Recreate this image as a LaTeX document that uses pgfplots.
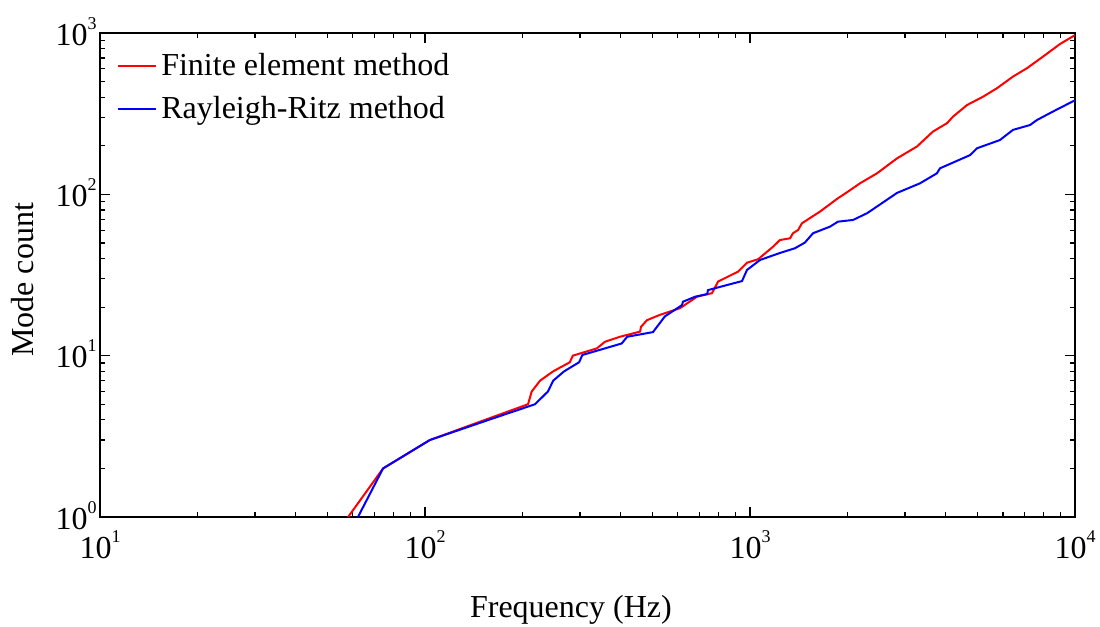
\documentclass[border=0pt]{standalone}
\usepackage{fontspec}
\setmainfont{Liberation Serif}
\usepackage{pgfplots}
\pgfplotsset{compat=1.18}
\newcommand\tp[1]{10\raisebox{8bp}{\fontsize{9bp}{10bp}\selectfont #1}}
\begin{document}
\begin{tikzpicture}
\useasboundingbox (-50bp,-55bp) rectangle (500bp,258.5bp);
\begin{axis}[
  at={(0,0)}, anchor=south west,
  scale only axis, width=487.5bp, height=242bp,
  xmode=log, ymode=log,
  xmin=10, xmax=10000, ymin=1, ymax=1000,
  xtick={10,100,1000,10000},
  xticklabels={\tp{1},\tp{2},\tp{3},\tp{4}},
  ytick={1,10,100,1000},
  yticklabels={\tp{0},\tp{1},\tp{2},\tp{3}},
  minor xtick={20,30,40,50,60,70,80,90,200,300,400,500,600,700,800,900,2000,3000,4000,5000,6000,7000,8000,9000},
  minor ytick={2,3,4,5,6,7,8,9,20,30,40,50,60,70,80,90,200,300,400,500,600,700,800,900},
  tick align=inside,
  xtick pos=both, ytick pos=both,
  major tick length=5bp, minor tick length=2.5bp,
  every tick/.style={black, line width=0.6bp},
  axis line style={line width=0.8bp},
  tick label style={font=\fontsize{16bp}{19bp}\selectfont},
  xticklabel style={anchor=north, inner sep=0pt, yshift=-6.5bp},
  yticklabel style={anchor=base east, inner sep=0pt, xshift=-1.5bp, yshift=-6bp},
  label style={font=\fontsize{16bp}{19bp}\selectfont},
  xlabel={Frequency (Hz)},
  ylabel={Mode count},
  xlabel style={at={(axis description cs:0.483,-0.208)}, anchor=base, inner sep=0pt},
  ylabel style={at={(axis description cs:-0.0687,0.49)}, anchor=base, inner sep=0pt, rotate=0},
  legend style={draw=none, fill=none, at={(axis description cs:0,1)}, anchor=north west,
    xshift=8.5bp, yshift=-10.1bp, inner sep=0pt, outer sep=0pt, row sep=9bp, column sep=2.15bp,
    font=\fontsize{16bp}{19bp}\selectfont, nodes={inner sep=0pt}},
  legend cell align=left,
  legend image code/.code={\draw[#1] (0bp,0bp) -- (19bp,0bp);},
]
\addplot[color=red, line width=1bp] coordinates {
(58,1) (74.3,2) (103.5,3) (153,4) (207.5,5) (213,6) (226,7) (248,8) (279,9.1) (285,10)
(338,11.1) (358,12.2) (398,13.1) (459,14.1) (462,15.1) (482,16.6) (528,17.9) (609,19.7)
(687,23.2) (764,24.4) (798,28.8) (919,33.2) (979,37.7) (1059,39.6) (1178,47.4) (1236,52.1)
(1328,53.4) (1356,57.4) (1406,60.1) (1445,66.2) (1641,78.1) (1865,94.6) (2003,104) (2179,117)
(2459,135) (2833,167) (3265,198) (3656,245) (4037,276) (4213,303) (4656,358) (5214,403)
(5755,455) (6446,537) (7115,605) (7973,714) (8995,855) (10000,970)
};
\addlegendentry{Finite element method}
\addplot[color=blue, line width=1bp] coordinates {
(62.2,1) (74.3,2) (103.5,3) (157,4) (218,5) (239,6) (248,7) (268,8) (298,9.1) (305,10.1)
(403,11.9) (419,13.1) (503,14) (547,17.5) (618,20.6) (622,21.6) (678,23.2) (738,24.1)
(743,25.5) (945,29) (979,34) (1074,39.2) (1236,43.3) (1374,46.3) (1475,50.2) (1563,57.4)
(1764,63.1) (1865,67.7) (2076,69.4) (2293,76.4) (2833,102) (3334,117) (3760,135) (3843,145)
(4753,175) (4993,193) (5874,217) (6446,251) (7273,269) (7642,289) (8555,326) (10000,383)
};
\addlegendentry{Rayleigh-Ritz method}
\end{axis}
\end{tikzpicture}
\end{document}
